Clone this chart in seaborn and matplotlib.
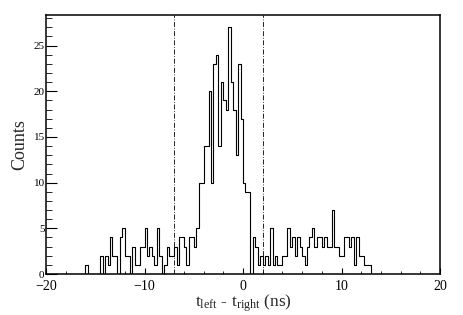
import numpy as np
import pandas as pd
import matplotlib
matplotlib.use("Agg")
import matplotlib.pyplot as plt
import seaborn as sns
from matplotlib.ticker import MultipleLocator

# ---- data ----
bin_width = 0.25
first_edge = -16.0
counts_left = [1, 0, 0, 0, 0, 0, 2, 0, 2, 1, 4, 2, 2, 0, 4, 5, 2, 2, 0, 3,
               1, 1, 3, 3, 5, 2, 3, 2, 1, 5, 2, 0, 1, 3, 2, 2, 3, 1, 4, 4,
               3, 1, 4, 4, 3, 5]
counts_peak = [10, 10, 14, 14, 20, 10, 23, 24, 14, 21, 19, 18, 27, 21, 18, 13,
               23, 17, 10, 9, 9, 0]
counts_right = [4, 3, 1, 2, 1, 2, 1, 5, 1, 2, 1, 1, 2, 2, 5, 3, 4, 2, 4, 3,
                2, 1, 3, 4, 5, 3, 4, 4, 3, 4, 3, 3, 7, 3, 3, 2, 2, 4, 4, 3,
                4, 1, 4, 2, 2, 1, 1, 1]
cut_lines = [-7.0, 2.0]
x_range = (-20, 20)
xlabel = r"t$_{\rm left}$ - t$_{\rm right}$ (ns)"
ylabel = "Counts"

counts = counts_left + counts_peak + counts_right
n = len(counts)
centers = first_edge + bin_width * (np.arange(n) + 0.5)
df = pd.DataFrame({"dt": centers, "n": counts})

# ---- style ----
sns.set_style("white")
plt.rcParams["font.family"] = ["Liberation Serif", "DejaVu Serif"]
plt.rcParams["mathtext.fontset"] = "custom"
plt.rcParams["mathtext.rm"] = "Liberation Serif"
plt.rcParams["mathtext.it"] = "Liberation Serif:italic"

fig = plt.figure(figsize=(4.63, 3.15), dpi=100)
ax = fig.add_axes([46 / 463, 1 - 274 / 315, (440 - 46) / 463, (274 - 15) / 315])

sns.histplot(data=df, x="dt", weights="n", binwidth=bin_width,
             binrange=x_range, element="step",
             fill=False, color="black", linewidth=0.8, ax=ax)

for c in cut_lines:
    ax.axvline(c, color="black", linestyle="-.", linewidth=0.6,
               dashes=(6, 2, 1, 2))

ax.set_xlim(*x_range)
ax.set_ylim(0, 28.35)
ax.xaxis.set_major_locator(MultipleLocator(10))
ax.xaxis.set_minor_locator(MultipleLocator(2))
ax.yaxis.set_major_locator(MultipleLocator(5))
ax.yaxis.set_minor_locator(MultipleLocator(1))
ax.tick_params(axis="x", which="major", direction="in", length=4, width=0.8,
               labelsize=10, pad=4.5, top=False)
ax.tick_params(axis="x", which="minor", direction="in", length=2.5, width=0.6,
               top=False)
ax.tick_params(axis="y", which="major", direction="in", length=8, width=0.8,
               labelsize=8, pad=1, right=False)
ax.tick_params(axis="y", which="minor", direction="in", length=4.5, width=0.6,
               right=False)
ax.tick_params(which="both", bottom=True, left=True, colors="black")

for s in ax.spines.values():
    s.set_visible(True)
    s.set_color("black")
    s.set_linewidth(1.1)

ax.set_xlabel(xlabel, fontsize=12.5, labelpad=-0.7)
ax.set_ylabel(ylabel, fontsize=13, labelpad=4)

fig.savefig("out.png", dpi=100)
